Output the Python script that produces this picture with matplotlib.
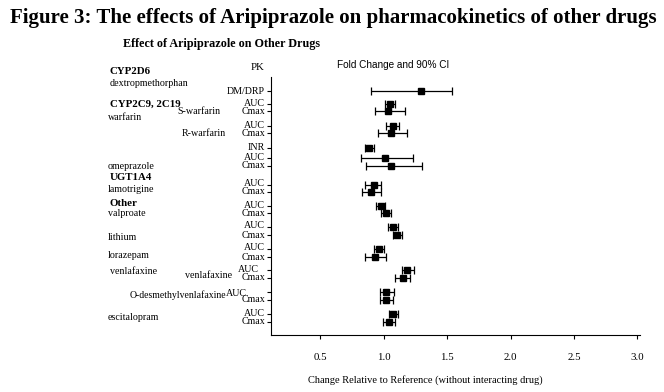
import matplotlib
matplotlib.use("Agg")
import matplotlib.pyplot as plt

plt.rcParams['font.family'] = ['Liberation Serif', 'DejaVu Serif']

##############################
# Donnees (fold change et IC 90%)

pk = ["DM/DRP",
      "AUC", "Cmax", "AUC", "Cmax", "INR",
      "AUC", "Cmax",
      "AUC", "Cmax",
      "AUC", "Cmax", "AUC", "Cmax", "AUC", "Cmax",
      "AUC", "Cmax", "AUC", "Cmax", "AUC", "Cmax"]
ratio = [1.29,
         1.05, 1.03, 1.07, 1.06, 0.88,
         1.01, 1.06,
         0.92, 0.90,
         0.98, 1.02, 1.07, 1.10, 0.96, 0.93,
         1.18, 1.15, 1.02, 1.02, 1.07, 1.04]
ci_low = [0.90,
          1.01, 0.93, 1.02, 0.95, 0.85,
          0.82, 0.86,
          0.85, 0.83,
          0.94, 0.98, 1.03, 1.07, 0.92, 0.85,
          1.14, 1.09, 0.97, 0.97, 1.04, 0.99]
ci_high = [1.54,
           1.09, 1.17, 1.12, 1.18, 0.92,
           1.23, 1.30,
           0.98, 0.98,
           1.01, 1.06, 1.11, 1.14, 1.00, 1.02,
           1.24, 1.21, 1.08, 1.07, 1.11, 1.09]
xticks = [0.5, 1.0, 1.5, 2.0, 2.5, 3.0]

##############################
# Mise en page (pixels)

W, H = 664, 392
row_y = [14, 27, 34, 49, 56, 71, 81, 89, 108, 115, 129, 136,
         150, 158, 172, 180, 193, 201, 215, 223, 237, 245]

fig = plt.figure(figsize=(W/100, H/100), dpi=100)
ax = fig.add_axes([271/W, 1-335/H, (640-271)/W, (335-77)/H])

err = [[r - lo for r, lo in zip(ratio, ci_low)],
       [hi - r for r, hi in zip(ratio, ci_high)]]
ax.errorbar(ratio, row_y, xerr=err, fmt='s', color='black', ms=5,
            ecolor='black', elinewidth=0.9, capsize=3, capthick=0.9)

ax.set_xlim(0.11, 3.02)
ax.set_ylim(258, 0)
ax.set_xticks(xticks)
ax.set_xticklabels(["%.1f" % t for t in xticks], fontsize=7.8)
ax.tick_params(axis='x', direction='out', length=3, pad=10)
ax.set_yticks(row_y)
ax.set_yticklabels([])
ax.tick_params(axis='y', direction='out', length=3)
for s in ['top', 'right']:
    ax.spines[s].set_visible(False)

# etiquettes PK
for i, (y, lab) in enumerate(zip(row_y, pk)):
    dx = -6
    dy = 1 if lab in ("AUC", "INR") else 0
    if i == 16:
        dx, dy = -12, 0
    if i == 18:
        dx, dy = -24, -2
    ax.annotate(lab, xy=(0, y), xycoords=('axes fraction', 'data'),
                xytext=(dx, dy), textcoords='offset pixels',
                ha='right', va='center', fontsize=7.2)

def txt(x, y, s, **kw):
    fig.text(x/W, 1-y/H, s, va='center', **kw)

txt(333, 18, "Figure 3: The effects of Aripiprazole on pharmacokinetics of other drugs",
    ha='center', fontsize=15, fontweight='bold')
txt(123, 44, "Effect of Aripiprazole on Other Drugs", fontsize=8.7, fontweight='bold')
txt(258, 67, "PK", ha='center', fontsize=7.8)
txt(393, 65, "Fold Change and 90% CI", ha='center', fontsize=7.2,
    family=['Liberation Sans', 'DejaVu Sans'])
txt(308, 380, "Change Relative to Reference (without interacting drug)", fontsize=7.5)

bold = [(110, 72, "CYP2D6"), (110, 104, "CYP2C9, 2C19"),
        (110, 178, "UGT1A4"), (110, 203, "Other")]
for x, y, s in bold:
    txt(x, y, s, fontsize=7.8, fontweight='bold')

noms = [(110, 84, "dextropmethorphan"), (108, 117, "warfarin"),
        (177, 111, "S-warfarin"), (182, 134, "R-warfarin"),
        (108, 167, "omeprazole"), (108, 190, "lamotrigine"),
        (108, 214, "valproate"), (108, 237, "lithium"),
        (108, 256, "lorazepam"), (110, 271, "venlafaxine"),
        (185, 276, "venlafaxine"), (130, 295, "O-desmethylvenlafaxine"),
        (108, 317, "escitalopram")]
for x, y, s in noms:
    fs = 7.0 if s.startswith("O-") else 7.2
    txt(x, y, s, fontsize=fs)

fig.savefig("out.png", dpi=100)
